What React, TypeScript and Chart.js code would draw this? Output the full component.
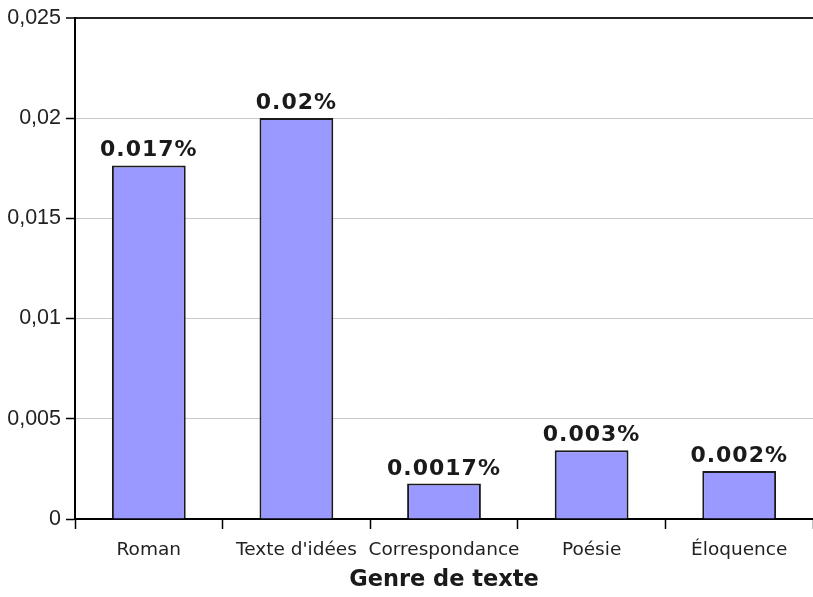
import React, { useEffect, useRef } from "react";
import { Chart, registerables } from "chart.js";

Chart.register(...registerables);

const categories = ["Roman", "Texte d'idées", "Correspondance", "Poésie", "Éloquence"];
const values = [0.01764, 0.02, 0.00177, 0.00343, 0.00239];
const valueLabels = ["0.017%", "0.02%", "0.0017%", "0.003%", "0.002%"];
const yMin = 0;
const yMax = 0.025;
const yStep = 0.005;
const xTitle = "Genre de texte";

const valueLabelPlugin = {
  id: "valueLabels",
  afterDatasetsDraw(chart: any) {
    const ctx = chart.ctx;
    const meta = chart.getDatasetMeta(0);
    ctx.save();
    ctx.font = "bold 22px 'DejaVu Sans'";
    try {
      (ctx as any).letterSpacing = "1px";
    } catch (e) {}
    ctx.fillStyle = "#1a1a1a";
    ctx.textAlign = "center";
    ctx.textBaseline = "alphabetic";
    meta.data.forEach((bar: any, i: number) => {
      ctx.fillText(valueLabels[i], bar.x, bar.y - 9);
    });
    ctx.restore();
  },
};

export default function App() {
  const ref = useRef<HTMLCanvasElement>(null);
  useEffect(() => {
    if (!ref.current) return;
    const chart = new Chart(ref.current, {
      type: "bar",
      data: {
        labels: categories,
        datasets: [
          {
            data: values,
            backgroundColor: "#9999ff",
            borderColor: "#1a1a1a",
            borderWidth: 2,
            barPercentage: 1,
            categoryPercentage: 0.5,
          },
        ],
      },
      options: {
        animation: false,
        responsive: false,
        maintainAspectRatio: false,
        layout: { padding: { top: 16, right: 0, left: 0, bottom: 0 } },
        plugins: { legend: { display: false }, tooltip: { enabled: false } },
        scales: {
          x: {
            offset: true,
            grid: {
              offset: true,
              drawOnChartArea: false,
              tickLength: 10,
              tickColor: "#000",
              tickWidth: 1.5,
            },
            border: { color: "#000", width: 2 },
            ticks: {
              color: "#222",
              font: { family: "'DejaVu Sans'", size: 18.5 },
              padding: 10,
              maxRotation: 0,
              autoSkip: false,
            },
            title: {
              display: true,
              text: xTitle,
              color: "#1a1a1a",
              font: { family: "'DejaVu Sans'", size: 22.5, weight: "bold" },
              padding: { top: 0, bottom: 3 },
            },
            afterFit: (scale: any) => {
              scale.height = 78;
            },
          },
          y: {
            min: yMin,
            max: yMax,
            grid: {
              color: (c: any) => (c.tick && Math.abs(c.tick.value - yMax) < 1e-9 ? "#222" : "#c8c8c8"),
              lineWidth: (c: any) => (c.tick && Math.abs(c.tick.value - yMax) < 1e-9 ? 2 : 1),
              tickColor: "#000",
              tickLength: 9,
              tickWidth: 1.5,
            },
            border: { color: "#000", width: 2 },
            ticks: {
              stepSize: yStep,
              color: "#222",
              font: { family: "'Liberation Sans'", size: 21.5 },
              padding: 5,
              callback: (v: any) => parseFloat(Number(v).toFixed(3)).toString().replace(".", ","),
            },
            afterFit: (scale: any) => {
              scale.width = 75;
            },
          },
        },
      },
      plugins: [valueLabelPlugin],
    });
    return () => chart.destroy();
  }, []);
  return (
    <div style={{ position: "fixed", left: 0, top: 0, width: 813, height: 597, background: "#fff" }}>
      <canvas ref={ref} width={813} height={597} style={{ display: "block" }} />
    </div>
  );
}
